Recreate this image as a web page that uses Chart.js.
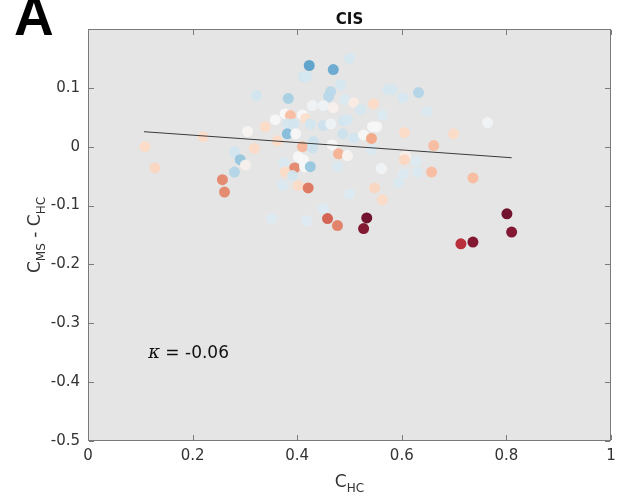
<!DOCTYPE html>
<html>
<head>
<meta charset="utf-8">
<script src="https://cdn.jsdelivr.net/npm/chart.js@4.4.0/dist/chart.umd.min.js"></script>
<style>
  html, body { margin: 0; padding: 0; background: #fff; }
  #wrap { width: 617px; height: 501px; }
</style>
</head>
<body>
<div id="wrap"><canvas id="cisChart" width="617" height="501"></canvas></div>
<script>
// Donnees (C_HC, C_MS - C_HC, valeur de couleur)
const xVals = [0.109, 0.128, 0.220, 0.257, 0.261, 0.305, 0.322, 0.280, 0.291, 0.301,
               0.280, 0.318, 0.339, 0.358, 0.362, 0.377, 0.387, 0.383, 0.381, 0.393,
               0.381, 0.397, 0.410, 0.416, 0.425, 0.410, 0.429, 0.431, 0.423, 0.469,
               0.412, 0.418, 0.500, 0.483, 0.464, 0.460, 0.429, 0.450, 0.469, 0.492,
               0.508, 0.450, 0.464, 0.489, 0.496, 0.487, 0.508, 0.467, 0.479, 0.496,
               0.521, 0.546, 0.573, 0.582, 0.563, 0.602, 0.632, 0.649, 0.544, 0.552,
               0.527, 0.542, 0.542, 0.605, 0.699, 0.764, 0.661, 0.607, 0.605, 0.628,
               0.603, 0.630, 0.657, 0.594, 0.736, 0.561, 0.548, 0.563, 0.500, 0.477,
               0.374, 0.402, 0.412, 0.395, 0.414, 0.425, 0.377, 0.391, 0.372, 0.402,
               0.421, 0.450, 0.351, 0.418, 0.458, 0.477, 0.533, 0.527, 0.713, 0.736,
               0.801, 0.810];
const yVals = [0.000, -0.036, 0.017, -0.056, -0.077, 0.026, 0.087, -0.009, -0.022, -0.031,
               -0.043, -0.003, 0.034, 0.046, 0.010, 0.056, 0.053, 0.082, 0.039, 0.039,
               0.022, 0.022, 0.054, 0.048, 0.039, 0.000, -0.002, 0.009, 0.138, 0.131,
               0.119, 0.119, 0.150, 0.105, 0.094, 0.085, 0.070, 0.070, 0.066, 0.080,
               0.075, 0.036, 0.039, 0.044, 0.046, 0.022, 0.015, 0.003, -0.012, -0.015,
               0.063, 0.073, 0.097, 0.097, 0.054, 0.083, 0.092, 0.060, 0.034, 0.034,
               0.020, 0.014, -0.005, 0.024, 0.022, 0.041, 0.002, -0.015, -0.022, -0.024,
               -0.046, -0.043, -0.043, -0.061, -0.053, -0.037, -0.070, -0.090, -0.080, -0.034,
               -0.027, -0.017, -0.022, -0.036, -0.034, -0.034, -0.043, -0.049, -0.066, -0.066,
               -0.070, -0.105, -0.122, -0.126, -0.122, -0.134, -0.121, -0.139, -0.165, -0.162,
               -0.114, -0.145];
const cVals = [0.20, 0.22, 0.20, 0.50, 0.50, 0.02, -0.20, -0.20, -0.40, 0.05,
               -0.30, 0.20, 0.20, 0.00, 0.20, 0.00, 0.32, -0.34, -0.18, -0.20,
               -0.44, 0.00, 0.00, 0.18, -0.20, 0.34, -0.22, -0.22, -0.55, -0.52,
               -0.20, -0.18, -0.18, -0.18, -0.28, -0.28, -0.04, -0.04, 0.05, -0.16,
               0.08, -0.22, -0.05, -0.20, -0.18, -0.22, -0.20, 0.00, 0.36, 0.02,
               -0.18, 0.20, -0.18, -0.18, -0.14, -0.18, -0.30, -0.16, 0.00, 0.00,
               0.00, 0.40, -0.16, 0.20, 0.20, -0.03, 0.32, 0.06, 0.22, -0.14,
               -0.14, -0.16, 0.32, -0.16, 0.32, -0.03, 0.22, 0.20, -0.14, -0.16,
               -0.16, 0.00, 0.00, 0.50, 0.00, -0.40, 0.20, -0.20, -0.16, 0.20,
               0.55, -0.14, -0.14, -0.14, 0.62, 0.52, 1.00, 0.95, 0.78, 0.95,
               1.00, 0.95];

// Droite de regression
const fitX = [0.107, 0.810];
const fitY = [0.0255, -0.0187];

// Axes
const xTicks = [0, 0.2, 0.4, 0.6, 0.8, 1];
const xTickLabels = ['0', '0.2', '0.4', '0.6', '0.8', '1'];
const yTicks = [-0.5, -0.4, -0.3, -0.2, -0.1, 0, 0.1];
const yTickLabels = ['-0.5', '-0.4', '-0.3', '-0.2', '-0.1', '0', '0.1'];
const xRange = [0, 1];
const yRange = [-0.5, 0.2];

const kappaText = '= -0.06';
const kappaPos = [0.115, -0.349];

// Palette RdBu (bleu -> rouge)
const rdbu = ['#053061', '#2166ac', '#4393c3', '#92c5de', '#d1e5f0', '#f7f7f7',
              '#fddbc7', '#f4a582', '#d6604d', '#b2182b', '#67001f'];

function hexToRgb(h) {
    return [parseInt(h.slice(1, 3), 16), parseInt(h.slice(3, 5), 16), parseInt(h.slice(5, 7), 16)];
}

function colourFor(c, alpha) {
    const t = (c + 1) / 2 * (rdbu.length - 1);
    const i = Math.max(0, Math.min(Math.floor(t), rdbu.length - 2));
    const f = t - i;
    const a = hexToRgb(rdbu[i]), b = hexToRgb(rdbu[i + 1]);
    const rgb = a.map((v, k) => Math.round(v + (b[k] - v) * f));
    return `rgba(${rgb[0]}, ${rgb[1]}, ${rgb[2]}, ${alpha})`;
}

// Texte avec indices (C_HC etc.)
function drawSubText(ctx, parts, x, y, mainSize, subSize) {
    let total = 0;
    parts.forEach(p => {
        ctx.font = `${p[1] ? subSize : mainSize}px "DejaVu Sans"`;
        total += ctx.measureText(p[0]).width;
    });
    let cx = x - total / 2;
    parts.forEach(p => {
        ctx.font = `${p[1] ? subSize : mainSize}px "DejaVu Sans"`;
        ctx.fillText(p[0], cx, p[1] ? y + 5 : y);
        cx += ctx.measureText(p[0]).width;
    });
}

const decorPlugin = {
    id: 'decor',
    beforeDatasetsDraw(chart) {
        const { ctx, chartArea: a } = chart;
        ctx.save();
        ctx.fillStyle = '#e5e5e5';
        ctx.fillRect(a.left, a.top, a.right - a.left, a.bottom - a.top);
        ctx.restore();
    },
    afterDraw(chart) {
        const { ctx, chartArea: a } = chart;
        const xs = chart.scales.x, ys = chart.scales.y;
        const L = Math.round(a.left), R = Math.round(a.right) - 1;
        const T = Math.round(a.top), B = Math.round(a.bottom) - 1;
        ctx.save();
        ctx.globalAlpha = 1;
        ctx.setLineDash([]);

        // cadre + graduations interieures (rectangles pleins de 1 px)
        ctx.fillStyle = '#7a7a7a';
        ctx.fillRect(L, T, R - L + 1, 1);
        ctx.fillRect(L, B, R - L + 1, 1);
        ctx.fillRect(L, T, 1, B - T + 1);
        ctx.fillRect(R, T, 1, B - T + 1);
        xTicks.forEach(v => {
            const px = Math.round(xs.getPixelForValue(v));
            ctx.fillRect(px, B - 5, 1, 5);
            ctx.fillRect(px, T + 1, 1, 5);
        });
        yTicks.forEach(v => {
            const py = Math.round(ys.getPixelForValue(v));
            ctx.fillRect(L + 1, py, 5, 1);
            ctx.fillRect(R - 5, py, 5, 1);
        });

        // titres des axes
        ctx.fillStyle = '#333';
        ctx.textBaseline = 'alphabetic';
        drawSubText(ctx, [['C', false], ['HC', true]], (a.left + a.right) / 2, 487, 17, 12);
        ctx.save();
        ctx.translate(40, (a.top + a.bottom) / 2);
        ctx.rotate(-Math.PI / 2);
        drawSubText(ctx, [['C', false], ['MS', true], [' - ', false], ['C', false], ['HC', true]], 0, 0, 17, 12);
        ctx.restore();

        // titre
        ctx.fillStyle = '#111';
        ctx.font = 'bold 15px "DejaVu Sans"';
        ctx.textAlign = 'center';
        ctx.fillText('CIS', (a.left + a.right) / 2, 24);

        // lettre du panneau
        ctx.fillStyle = '#000';
        ctx.font = 'bold 55px "Liberation Sans"';
        ctx.textAlign = 'left';
        ctx.fillText('A', 14, 35);

        // kappa
        const kx = xs.getPixelForValue(kappaPos[0]);
        const ky = ys.getPixelForValue(kappaPos[1]);
        ctx.fillStyle = '#111';
        ctx.font = 'italic 18px "DejaVu Serif"';
        ctx.fillText('\u03ba', kx, ky + 6);
        const kw = ctx.measureText('\u03ba').width;
        ctx.font = '17px "DejaVu Sans"';
        ctx.fillText(' ' + kappaText, kx + kw, ky + 6);

        ctx.restore();
    }
};

Chart.defaults.font.family = '"DejaVu Sans"';

new Chart(document.getElementById('cisChart'), {
    type: 'scatter',
    data: {
        datasets: [{
            type: 'line',
            data: fitX.map((x, i) => ({ x: x, y: fitY[i] })),
            borderColor: '#3a3a3a',
            borderWidth: 1,
            pointRadius: 0,
            fill: false
        }, {
            data: xVals.map((x, i) => ({ x: x, y: yVals[i] })),
            backgroundColor: cVals.map(c => colourFor(c, 0.92)),
            borderWidth: 0,
            pointRadius: 5.5,
            pointHoverRadius: 5.5
        }]
    },
    options: {
        responsive: false,
        animation: false,
        layout: {
            padding: { left: 0, top: 29, right: 6, bottom: 0 }
        },
        plugins: {
            legend: { display: false },
            tooltip: { enabled: false }
        },
        scales: {
            x: {
                type: 'linear',
                min: xRange[0],
                max: xRange[1],
                grid: { display: false, drawTicks: false },
                border: { display: false },
                afterBuildTicks: (s) => { s.ticks = xTicks.map(v => ({ value: v })); },
                afterFit: (s) => { s.height = 60; s.paddingLeft = 0; s.paddingRight = 0; },
                ticks: {
                    padding: 6,
                    color: '#333',
                    font: { size: 15 },
                    maxRotation: 0,
                    callback: (v) => xTickLabels[xTicks.indexOf(v)]
                }
            },
            y: {
                type: 'linear',
                min: yRange[0],
                max: yRange[1],
                grid: { display: false, drawTicks: false },
                border: { display: false },
                afterBuildTicks: (s) => { s.ticks = yTicks.map(v => ({ value: v })); },
                afterFit: (s) => { s.width = 88; s.paddingTop = 0; s.paddingBottom = 0; },
                ticks: {
                    padding: 8,
                    color: '#333',
                    font: { size: 15 },
                    callback: (v) => yTickLabels[yTicks.indexOf(v)]
                }
            }
        }
    },
    plugins: [decorPlugin]
});
</script>
</body>
</html>
